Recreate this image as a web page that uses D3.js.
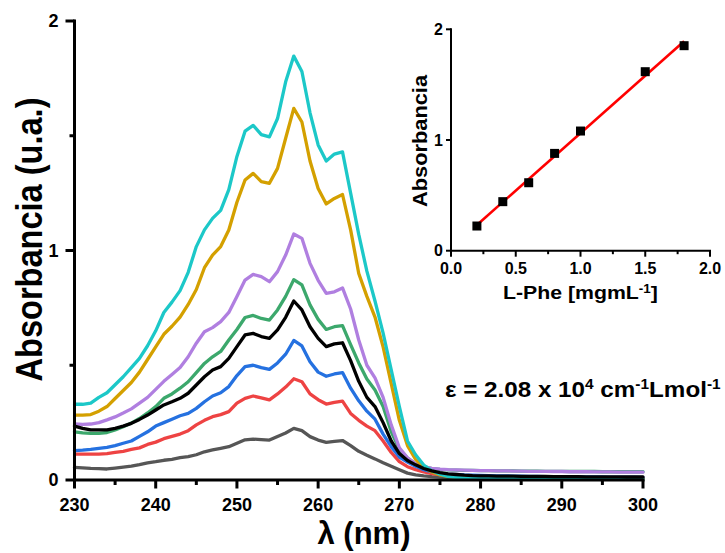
<!DOCTYPE html>
<html><head><meta charset="utf-8">
<script src="https://cdn.jsdelivr.net/npm/d3@7"></script>
<style>
body{margin:0;background:#fff}
svg{display:block}
text{font-family:"Liberation Sans",Arial,Helvetica,sans-serif;font-weight:bold;fill:#000}
</style>
</head><body><div id="chart"></div>
<script>
// ---------- data ----------
const wlStart = 230, wlEnd = 300;
const wavelengths = d3.range(wlStart, wlEnd + 1); // 1 nm grid

const grayS = [0.055,0.053,0.051,0.05,0.048,0.052,0.056,0.06,0.067,0.075,0.08,0.086,0.09,0.097,0.102,0.11,0.123,0.131,0.138,0.145,0.16,0.175,0.178,0.176,0.174,0.19,0.205,0.225,0.215,0.189,0.174,0.164,0.168,0.172,0.15,0.125,0.108,0.092,0.075,0.06,0.045,0.03,0.022,0.018,0.015,0.013,
  0.012,0.011,0.01,0.01,0.009,0.009,0.008,0.008,0.008,0.007,0.007,0.007,0.007,0.006,0.006,0.006,0.006,0.006,0.005,0.005,0.005,0.005,0.005,0.005,0.005];
const redS = [0.113,0.113,0.113,0.113,0.115,0.12,0.125,0.133,0.14,0.155,0.165,0.18,0.19,0.2,0.215,0.24,0.26,0.276,0.285,0.298,0.335,0.356,0.366,0.358,0.349,0.375,0.405,0.441,0.428,0.375,0.35,0.331,0.338,0.344,0.29,0.26,0.235,0.215,0.17,0.12,0.08,0.058,0.045,0.035,0.028,0.024,
  0.021,0.019,0.018,0.017,0.016,0.015,0.014,0.014,0.013,0.013,0.012,0.012,0.012,0.011,0.011,0.011,0.01,0.01,0.01,0.01,0.009,0.009,0.009,0.009,0.009];
const blueS = [0.128,0.13,0.133,0.138,0.142,0.15,0.16,0.17,0.19,0.21,0.235,0.25,0.265,0.28,0.29,0.312,0.341,0.366,0.38,0.407,0.455,0.494,0.5,0.49,0.482,0.51,0.548,0.608,0.584,0.515,0.47,0.452,0.462,0.468,0.4,0.345,0.3,0.265,0.2,0.145,0.1,0.078,0.06,0.045,0.035,0.03,
  0.026,0.024,0.022,0.021,0.02,0.019,0.018,0.018,0.017,0.017,0.016,0.016,0.015,0.015,0.014,0.014,0.014,0.013,0.013,0.013,0.012,0.012,0.012,0.012,0.011];
const blackS = [0.235,0.225,0.218,0.218,0.218,0.225,0.235,0.247,0.264,0.283,0.305,0.327,0.341,0.356,0.378,0.414,0.45,0.479,0.494,0.53,0.581,0.632,0.639,0.625,0.617,0.654,0.709,0.78,0.741,0.668,0.617,0.581,0.593,0.598,0.52,0.43,0.36,0.32,0.25,0.17,0.115,0.085,0.066,0.05,0.04,0.032,
  0.027,0.024,0.021,0.019,0.018,0.018,0.017,0.017,0.017,0.016,0.016,0.016,0.016,0.015,0.015,0.015,0.015,0.014,0.014,0.014,0.014,0.014,0.013,0.013,0.013];
const greenS = [0.21,0.205,0.203,0.203,0.207,0.218,0.232,0.248,0.268,0.292,0.32,0.356,0.375,0.4,0.428,0.468,0.508,0.537,0.56,0.61,0.656,0.708,0.717,0.704,0.697,0.741,0.8,0.873,0.85,0.763,0.7,0.656,0.668,0.673,0.59,0.51,0.44,0.392,0.32,0.21,0.135,0.095,0.07,0.058,0.05,0.046,
  0.044,0.043,0.042,0.042,0.041,0.041,0.04,0.04,0.04,0.039,0.039,0.039,0.038,0.038,0.038,0.037,0.037,0.037,0.037,0.036,0.036,0.036,0.036,0.036,0.036];
const purpleS = [0.244,0.242,0.244,0.25,0.262,0.275,0.292,0.31,0.335,0.36,0.395,0.43,0.46,0.49,0.537,0.596,0.646,0.664,0.69,0.73,0.8,0.871,0.896,0.886,0.864,0.908,0.98,1.072,1.053,0.944,0.87,0.813,0.82,0.837,0.745,0.61,0.5,0.445,0.36,0.24,0.14,0.097,0.07,0.058,0.051,0.047,
  0.045,0.044,0.043,0.042,0.041,0.041,0.04,0.04,0.039,0.039,0.038,0.038,0.038,0.037,0.037,0.036,0.036,0.036,0.035,0.035,0.035,0.034,0.034,0.034,0.034];
const goldS = [0.283,0.283,0.285,0.3,0.32,0.355,0.39,0.425,0.47,0.525,0.58,0.635,0.67,0.71,0.765,0.83,0.925,0.98,1.017,1.089,1.21,1.307,1.336,1.3,1.293,1.358,1.489,1.619,1.56,1.39,1.27,1.203,1.227,1.244,1.09,0.9,0.8,0.71,0.58,0.42,0.26,0.15,0.09,0.055,0.035,0.022,
  0.016,0.012,0.01,0.009,0.008,0.008,0.007,0.007,0.007,0.006,0.006,0.006,0.006,0.005,0.005,0.005,0.005,0.005,0.004,0.004,0.004,0.004,0.004,0.004,0.004];
const cyanS = [0.33,0.33,0.335,0.36,0.38,0.415,0.45,0.49,0.53,0.585,0.65,0.73,0.775,0.825,0.905,1.017,1.09,1.14,1.175,1.265,1.41,1.52,1.545,1.505,1.495,1.575,1.735,1.847,1.78,1.6,1.46,1.39,1.42,1.43,1.25,1.07,0.91,0.78,0.64,0.48,0.32,0.17,0.11,0.065,0.04,0.025,
  0.016,0.011,0.009,0.008,0.007,0.007,0.006,0.006,0.006,0.005,0.005,0.005,0.005,0.004,0.004,0.004,0.004,0.004,0.004,0.003,0.003,0.003,0.003,0.003,0.003];

const seriesNames  = ["gray","red","blue","green","purple","gold","cyan","black"];
const seriesValues = [grayS, redS, blueS, greenS, purpleS, goldS, cyanS, blackS];
const seriesColors = ["#565656","#ee4343","#2571e0","#3ca86c","#b07fe0","#d4a000","#1cc8c8","#000000"];

const xMajorTicks = [230,240,250,260,270,280,290,300];
const xMinorTicks = [235,245,255,265,275,285,295];
const yMajorTicks = [0,1,2];
const yMinorTicks = [0.5,1.5];

// inset calibration
const concentrations = [0.2,0.4,0.6,0.8,1.0,1.5,1.8];
const absorbances    = [0.223,0.443,0.614,0.879,1.081,1.617,1.852];
const insetXMajor = [0,0.5,1.0,1.5,2.0];
const insetXMinor = [0.25,0.75,1.25,1.75];
const insetYMajor = [0,1,2];

// ---------- chart ----------
const W = 725, H = 553;
const svg = d3.select("#chart").append("svg").attr("width", W).attr("height", H);

const x = d3.scaleLinear().domain([230, 300]).range([74.5, 643]);
const y = d3.scaleLinear().domain([0, 2]).range([480, 21]);

// spectra
const line = d3.line().x((d, i) => x(wavelengths[i])).y(d => y(d));
svg.append("g").selectAll("path").data(seriesValues).join("path")
  .attr("d", d => line(d))
  .attr("fill", "none")
  .attr("stroke", (d, i) => seriesColors[i])
  .attr("stroke-width", 3.3)
  .attr("stroke-linejoin", "round")
  .attr("stroke-linecap", "round");

// generic axis builder drawn with explicit, thick SVG lines
function drawAxis(opts) {
  const { scale, orient, pos, major, minor, majorLen, minorLen, sw, fmt, fontSize, labelOffset } = opts;
  const g = svg.append("g");
  const r = scale.range();
  const half = sw / 2;
  if (orient === "bottom") {
    g.append("line").attr("x1", Math.min(...r) - half).attr("x2", Math.max(...r) + half)
      .attr("y1", pos).attr("y2", pos).attr("stroke", "#000").attr("stroke-width", sw);
    g.selectAll("line.maj").data(major).join("line").attr("class", "maj")
      .attr("x1", d => scale(d)).attr("x2", d => scale(d))
      .attr("y1", pos).attr("y2", pos + majorLen).attr("stroke", "#000").attr("stroke-width", sw);
    g.selectAll("line.min").data(minor).join("line").attr("class", "min")
      .attr("x1", d => scale(d)).attr("x2", d => scale(d))
      .attr("y1", pos).attr("y2", pos + minorLen).attr("stroke", "#000").attr("stroke-width", sw);
    g.selectAll("text").data(major).join("text")
      .attr("x", d => scale(d)).attr("y", pos + labelOffset)
      .attr("text-anchor", "middle").style("font-size", fontSize + "px").text(fmt);
  } else {
    g.append("line").attr("y1", Math.min(...r) - half).attr("y2", Math.max(...r) + half)
      .attr("x1", pos).attr("x2", pos).attr("stroke", "#000").attr("stroke-width", sw);
    g.selectAll("line.maj").data(major).join("line").attr("class", "maj")
      .attr("y1", d => scale(d)).attr("y2", d => scale(d))
      .attr("x1", pos).attr("x2", pos - majorLen).attr("stroke", "#000").attr("stroke-width", sw);
    g.selectAll("line.min").data(minor).join("line").attr("class", "min")
      .attr("y1", d => scale(d)).attr("y2", d => scale(d))
      .attr("x1", pos).attr("x2", pos - minorLen).attr("stroke", "#000").attr("stroke-width", sw);
    g.selectAll("text").data(major).join("text")
      .attr("x", pos - labelOffset).attr("y", d => scale(d)).attr("dy", "0.36em")
      .attr("text-anchor", "end").style("font-size", fontSize + "px").text(fmt);
  }
  return g;
}

drawAxis({ scale: x, orient: "bottom", pos: 480, major: xMajorTicks, minor: xMinorTicks,
  majorLen: 8.5, minorLen: 5, sw: 3, fmt: d3.format("d"), fontSize: 18, labelOffset: 31 });
drawAxis({ scale: y, orient: "left", pos: 74.5, major: yMajorTicks, minor: yMinorTicks,
  majorLen: 9, minorLen: 5, sw: 3, fmt: d3.format("d"), fontSize: 18, labelOffset: 16 });

// main titles
svg.append("text")
  .attr("transform", "translate(42,239.5) rotate(-90)")
  .attr("text-anchor", "middle")
  .attr("textLength", 284).attr("lengthAdjust", "spacingAndGlyphs")
  .style("font-size", "36px")
  .text("Absorbancia (u.a.)");

svg.append("text")
  .attr("x", 364).attr("y", 544)
  .attr("text-anchor", "middle")
  .style("font-size", "31px")
  .text("λ (nm)");

// epsilon annotation (stretched to the reference width)
const epsG = svg.append("g");
const eps = epsG.append("text").attr("x", 0).attr("y", 0).style("font-size", "22px");
eps.append("tspan").text("ε = 2.08 x 10");
eps.append("tspan").attr("dy", -8).style("font-size", "14px").text("4");
eps.append("tspan").attr("dy", 8).text(" cm");
eps.append("tspan").attr("dy", -8).style("font-size", "14px").text("-1");
eps.append("tspan").attr("dy", 8).text("Lmol");
eps.append("tspan").attr("dy", -8).style("font-size", "14px").text("-1");
const epsW = eps.node().getBBox().width;
epsG.attr("transform", `translate(445,397) scale(${276 / epsW},1)`);

// ---------- inset ----------
const xi = d3.scaleLinear().domain([0, 2]).range([451, 710]);
const yi = d3.scaleLinear().domain([0, 2]).range([250.7, 29.3]);

drawAxis({ scale: xi, orient: "bottom", pos: 250.7, major: insetXMajor, minor: insetXMinor,
  majorLen: 6, minorLen: 3.5, sw: 2, fmt: d3.format(".1f"), fontSize: 16, labelOffset: 23.5 });
drawAxis({ scale: yi, orient: "left", pos: 451, major: insetYMajor, minor: [],
  majorLen: 5, minorLen: 0, sw: 2, fmt: d3.format("d"), fontSize: 16, labelOffset: 8 });

// linear regression of calibration points
const mx = d3.mean(concentrations), my = d3.mean(absorbances);
let sxy = 0, sxx = 0;
concentrations.forEach((c, i) => { sxy += (c - mx) * (absorbances[i] - my); sxx += (c - mx) * (c - mx); });
const slope = sxy / sxx, intercept = my - slope * mx;
const fitX = d3.extent(concentrations);

svg.append("line")
  .attr("x1", xi(fitX[0])).attr("y1", yi(intercept + slope * fitX[0]))
  .attr("x2", xi(fitX[1])).attr("y2", yi(intercept + slope * fitX[1]))
  .attr("stroke", "#ff0000").attr("stroke-width", 2.6);

const ms = 9;
svg.append("g").selectAll("rect").data(concentrations).join("rect")
  .attr("x", d => xi(d) - ms / 2)
  .attr("y", (d, i) => yi(absorbances[i]) - ms / 2)
  .attr("width", ms).attr("height", ms)
  .attr("fill", "#000");

svg.append("text")
  .attr("transform", "translate(427,141) rotate(-90)")
  .attr("text-anchor", "middle")
  .attr("textLength", 132).attr("lengthAdjust", "spacingAndGlyphs")
  .style("font-size", "21px")
  .text("Absorbancia");

const xtG = svg.append("g");
const xt = xtG.append("text").attr("x", 0).attr("y", 0).style("font-size", "19px");
xt.append("tspan").text("L-Phe [mgmL");
xt.append("tspan").attr("dy", -6).style("font-size", "12px").text("-1");
xt.append("tspan").attr("dy", 6).text("]");
const xtW = xt.node().getBBox().width;
xtG.attr("transform", `translate(503,299) scale(${155 / xtW},1)`);
</script>
</body></html>
